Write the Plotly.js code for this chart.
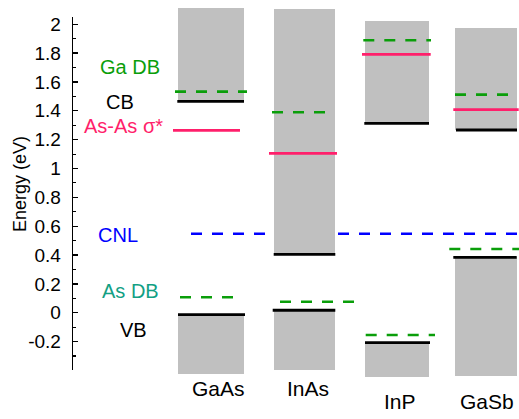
<!DOCTYPE html>
<html>
<head>
<meta charset="utf-8">
<script src="https://cdn.plot.ly/plotly-3.0.1.min.js"></script>
<style>
  html, body { margin: 0; padding: 0; background: #fff; }
  #chart { width: 519px; height: 419px; }
</style>
</head>
<body>
<div id="chart"></div>
<script>
// Band line-up of four III-V semiconductors, energies in eV
const materials  = ['GaAs', 'InAs', 'InP', 'GaSb'];
const vbTop      = [-0.014, 0.017, -0.208, 0.384];   // valence band maximum
const cbBottom   = [1.466, 0.405, 1.313, 1.267];     // conduction band minimum
const vbFloor    = [-0.427, -0.400, -0.444, -0.437]; // lower end of the drawn VB block
const cbCeiling  = [2.111, 2.106, 2.020, 1.974];     // upper end of the drawn CB block
const cationDB   = [1.533, 1.390, 1.889, 1.512];     // cation dangling bond
const anionDB    = [0.107, 0.076, -0.155, 0.442];    // anion dangling bond
const sigmaStar  = [1.265, 1.105, 1.792, 1.408];     // anion-anion sigma* state
const cnl        = 0.548;                             // charge neutrality level
const yTickVals  = [-0.2, 0, 0.2, 0.4, 0.6, 0.8, 1, 1.2, 1.4, 1.6, 1.8, 2];
const yTickText  = ['-0.2', '0', '0.2', '0.4', '0.6', '0.8', '1', '1.2', '1.4', '1.6', '1.8', '2'];

// ---- layout geometry (x axis runs in pixel-like units across the page) ----
const W = 519, H = 419;
const M = { l: 0, r: 0, t: 4, b: 40 };
const PX_PER_EV = 144.2, ZERO_PX = 312.7;
const yHi = (ZERO_PX - M.t) / PX_PER_EV;
const yLo = (ZERO_PX - (H - M.b)) / PX_PER_EV;
const axisLo = -0.4, axisHi = 2.05;

const boxX     = [[178, 244], [273.7, 335.3], [365, 429], [455, 516.7]];
const cbSegX   = [[177.3, 244], [273.7, 335.3], [364.3, 429], [456, 517]];
const vbSegX   = [[178, 245], [272.7, 335.3], [365, 430], [453.3, 516.7]];
const catSegX  = [[175, 247], [272, 326.7], [363.3, 431], [455, 510]];
const aniSegX  = [[180, 235], [280, 356], [365.7, 435], [449.3, 519]];
const sigSegX  = [[173, 240], [269, 337], [362, 430.7], [453.3, 518.7]];
const cnlSegX  = [191, 519];

const GREEN = '#0a9e0a', PINK = '#ff1f6b', BLUE = '#0000ff', TEAL = '#12a084', GRAY = '#c0c0c0';
const FONT = 'Liberation Sans, Arial, sans-serif';

function segTrace(segs, vals, color, dash, width) {
  const x = [], y = [];
  segs.forEach((s, i) => { x.push(s[0], s[1], null); y.push(vals[i], vals[i], null); });
  return { type: 'scatter', mode: 'lines', x, y, xaxis: 'x', yaxis: 'y',
           line: { color, width, dash }, hoverinfo: 'skip', showlegend: false };
}

const centers = boxX.map(b => (b[0] + b[1]) / 2);
const widths  = boxX.map(b => b[1] - b[0]);

const traces = [
  // conduction band blocks
  { type: 'bar', x: centers, width: widths, base: cbBottom,
    y: cbCeiling.map((t, i) => t - cbBottom[i]),
    marker: { color: GRAY, line: { width: 0 }, opacity: 1 },
    hoverinfo: 'skip', showlegend: false, xaxis: 'x', yaxis: 'y' },
  // valence band blocks
  { type: 'bar', x: centers, width: widths, base: vbFloor,
    y: vbTop.map((t, i) => t - vbFloor[i]),
    marker: { color: GRAY, line: { width: 0 }, opacity: 1 },
    hoverinfo: 'skip', showlegend: false, xaxis: 'x', yaxis: 'y' },
  segTrace(catSegX, cationDB, GREEN, '11px,10px', 2.6),
  segTrace(aniSegX, anionDB, GREEN, '11px,10px', 2.6),
  segTrace(sigSegX, sigmaStar, PINK, 'solid', 2.8),
  segTrace(cbSegX, cbBottom, '#000', 'solid', 2.8),
  segTrace(vbSegX, vbTop, '#000', 'solid', 2.8),
  // carrier for the visible energy axis
  { type: 'scatter', mode: 'lines', x: [null], y: [null], xaxis: 'x', yaxis: 'y2',
    hoverinfo: 'skip', showlegend: false }
];

const plotH = H - M.t - M.b;
const pyToPaper = py => (H - M.b - py) / plotH;
const span = yHi - yLo;

const label = (text, x, py, color, size) => ({
  text, x, y: pyToPaper(py), xref: 'x', yref: 'paper', showarrow: false,
  xanchor: 'center', yanchor: 'middle', font: { family: FONT, size, color }
});

const layout = {
  width: W, height: H, margin: M,
  paper_bgcolor: '#fff', plot_bgcolor: 'rgba(0,0,0,0)',
  barmode: 'overlay', bargap: 0, showlegend: false,
  xaxis: { range: [0, W], visible: false, fixedrange: true },
  yaxis: { range: [yLo, yHi], visible: false, fixedrange: true },
  yaxis2: {
    range: [axisLo, axisHi],
    domain: [(axisLo - yLo) / span, (axisHi - yLo) / span],
    anchor: 'free', position: 71.7 / W,
    showline: true, linecolor: '#000', linewidth: 1.3,
    ticks: 'inside', ticklen: 5, tickwidth: 1.3, tickcolor: '#000',
    tickvals: yTickVals, ticktext: yTickText,
    minor: { ticks: 'inside', ticklen: 3, tickwidth: 1.1, tickcolor: '#000', dtick: 0.1, tick0: 0, showgrid: false },
    ticklabelstandoff: 7,
    showgrid: false, zeroline: false, fixedrange: true,
    tickfont: { family: FONT, size: 19, color: '#000' }
  },
  shapes: [
    // charge neutrality level, drawn beneath the band blocks
    { type: 'line', layer: 'below', xref: 'x', yref: 'y',
      x0: cnlSegX[0], x1: cnlSegX[1], y0: cnl, y1: cnl,
      line: { color: BLUE, width: 2.6, dash: '11px,10px' } }
  ],
  annotations: [
    label('Ga DB', 130, 67, GREEN, 20),
    label('CB', 120, 102, '#000', 20),
    label('As-As \u03c3*', 123, 126, PINK, 20),
    label('CNL', 118, 235, BLUE, 20),
    label('As DB', 130, 291, TEAL, 20),
    label('VB', 133, 330, '#000', 20),
    label(materials[0], 218, 388, '#000', 21),
    label(materials[1], 308, 388, '#000', 21),
    label(materials[2], 400, 402, '#000', 21),
    label(materials[3], 487, 402, '#000', 21),
    { text: 'Energy (eV)', x: 20 / W, y: pyToPaper(184), xref: 'paper', yref: 'paper',
      textangle: -90, showarrow: false, xanchor: 'center', yanchor: 'middle',
      font: { family: FONT, size: 18, color: '#000' } }
  ]
};

Plotly.newPlot('chart', traces, layout, { displayModeBar: false, staticPlot: true });
</script>
</body>
</html>
